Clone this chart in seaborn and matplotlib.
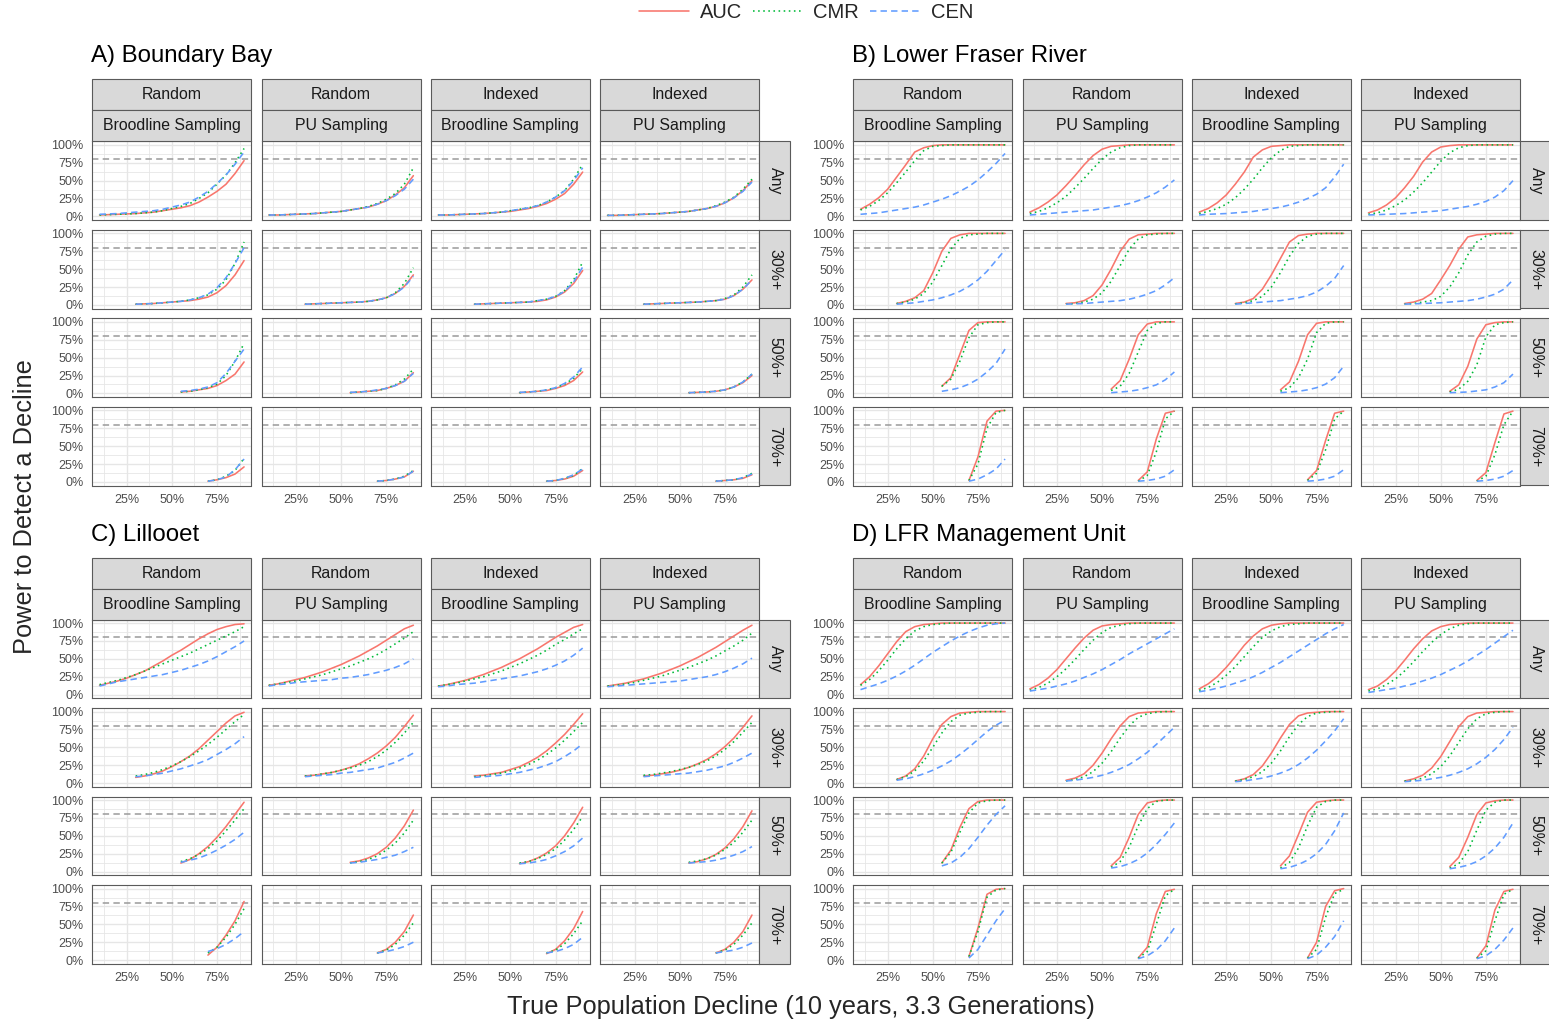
import matplotlib
matplotlib.use("Agg")
import matplotlib.pyplot as plt
import pandas as pd
import seaborn as sns
from matplotlib.lines import Line2D
from matplotlib.patches import Rectangle
from matplotlib.transforms import Affine2D

# ---------------------------------------------------------------------------
# True decline levels (%) simulated for each minimum-decline subset
DECLINE_ANY = [10, 15, 20, 25, 30, 35, 40, 45, 50, 55, 60, 65, 70, 75, 80, 85, 90]
DECLINE_30 = [30, 35, 40, 45, 50, 55, 60, 65, 70, 75, 80, 85, 90]
DECLINE_50 = [55, 60, 65, 70, 75, 80, 85, 90]
DECLINE_70 = [70, 75, 80, 85, 90]
SUBSETS = ["Any", "30%+", "50%+", "70%+"]
METHODS = ["AUC", "CMR", "CEN"]
SCHEMES = [("Random", "Broodline Sampling"), ("Random", "PU Sampling"),
           ("Indexed", "Broodline Sampling"), ("Indexed", "PU Sampling")]
SITE_TITLES = ["A) Boundary Bay", "B) Lower Fraser River",
               "C) Lillooet", "D) LFR Management Unit"]
POWER_TARGET = 80

# Power (%) per site / scheme / method; one list per subset (Any, 30%+, 50%+, 70%+)
# --- Boundary Bay
bb_rb_auc = [[2, 2.5, 3, 3.5, 4, 5, 6, 8, 10, 12, 15, 20, 27, 35, 45, 60, 78],
             [1, 1.5, 2, 3, 4, 5, 6, 8, 11, 17, 27, 42, 62],
             [2, 3, 5, 7, 11, 18, 27, 44],
             [1, 3, 6, 11, 21]]
bb_rb_cmr = [[2, 2.5, 3, 3.5, 4, 5, 6, 8, 11, 14, 18, 25, 33, 45, 58, 75, 95],
             [1, 1.5, 2, 3, 4, 5, 7, 10, 14, 22, 35, 58, 88],
             [2, 3, 5, 8, 13, 25, 45, 70],
             [1, 3, 8, 16, 33]]
bb_rb_cen = [[3, 3.5, 4, 5, 6, 7, 8, 10, 13, 16, 20, 27, 35, 46, 58, 73, 90],
             [1, 1.5, 2, 3, 4, 5, 7, 10, 15, 24, 38, 58, 80],
             [3, 4, 6, 9, 15, 28, 45, 62],
             [1, 3, 7, 17, 32]]
bb_rp_auc = [[2, 2, 2.5, 3, 3.5, 4, 5, 6, 7, 9, 11, 13, 17, 22, 30, 40, 57],
             [1, 1.5, 2, 2.5, 3, 3.5, 4, 5, 7, 10, 16, 26, 42],
             [1, 2, 3, 4, 7, 11, 17, 29],
             [1, 2, 4, 7, 15]]
bb_rp_cmr = [[2, 2, 2.5, 3, 3.5, 4, 5, 6, 7, 9, 11, 14, 18, 24, 32, 45, 68],
             [1, 1.5, 2, 2.5, 3, 3.5, 4, 5, 7, 10, 17, 30, 52],
             [1, 2, 3, 4, 7, 12, 20, 34],
             [1, 2, 4, 8, 16]]
bb_rp_cen = [[2, 2, 2.5, 3, 3.5, 4, 5, 6, 7, 9, 11, 13, 17, 22, 29, 38, 52],
             [1, 1.5, 2, 2.5, 3, 3.5, 4, 5, 7, 10, 16, 25, 40],
             [1.5, 2, 3, 5, 7, 11, 17, 28],
             [1, 2, 4, 7, 15]]
bb_ib_auc = [[2, 2, 2.5, 3, 3.5, 4, 5, 6, 7, 9, 11, 14, 18, 24, 32, 45, 62],
             [1, 1.5, 2, 2.5, 3, 3.5, 4, 5, 7, 11, 18, 30, 48],
             [1, 2, 3, 4, 7, 11, 18, 30],
             [1, 2, 4, 8, 16]]
bb_ib_cmr = [[2, 2, 2.5, 3, 3.5, 4, 5, 6, 8, 10, 12, 15, 20, 27, 36, 52, 73],
             [1, 1.5, 2, 2.5, 3, 3.5, 4, 6, 8, 12, 20, 35, 60],
             [1, 2, 3, 5, 8, 13, 21, 35],
             [1, 2, 5, 9, 19]]
bb_ib_cen = [[2, 2, 2.5, 3, 3.5, 4, 5, 6, 8, 10, 12, 15, 20, 27, 36, 50, 68],
             [1, 1.5, 2, 2.5, 3, 3.5, 4, 6, 8, 12, 19, 32, 53],
             [1.5, 2, 3, 5, 8, 14, 23, 37],
             [1, 2, 5, 10, 18]]
bb_ip_auc = [[1.5, 1.5, 2, 2.5, 3, 3.5, 4, 5, 6, 7, 9, 11, 14, 19, 26, 36, 50],
             [1, 1.5, 2, 2.5, 3, 3.5, 4, 5, 6, 8, 13, 22, 35],
             [1, 1.5, 2, 3, 5, 9, 15, 25],
             [1, 2, 3, 5, 10]]
bb_ip_cmr = [[1.5, 1.5, 2, 2.5, 3, 3.5, 4, 5, 6, 7, 9, 11, 15, 20, 27, 38, 52],
             [1, 1.5, 2, 2.5, 3, 3.5, 4, 5, 6, 9, 14, 25, 42],
             [1, 1.5, 2, 3, 5, 9, 16, 27],
             [1, 2, 3, 6, 12]]
bb_ip_cen = [[1.5, 1.5, 2, 2.5, 3, 3.5, 4, 5, 6, 7, 9, 11, 14, 19, 26, 35, 48],
             [1, 1.5, 2, 2.5, 3, 3.5, 4, 5, 6, 8, 13, 22, 35],
             [1, 1.5, 2, 3, 5, 9, 16, 27],
             [1, 2, 3, 6, 11]]

# --- Lower Fraser River
lfr_rb_auc = [[10, 17, 26, 38, 55, 72, 90, 96, 99, 100, 100, 100, 100, 100, 100, 100, 100],
              [2, 5, 10, 20, 45, 75, 93, 98, 100, 100, 100, 100, 100],
              [10, 22, 55, 88, 99, 100, 100, 100],
              [2, 35, 85, 99, 100]]
lfr_rb_cmr = [[9, 14, 22, 33, 47, 62, 78, 92, 98, 99, 100, 100, 100, 100, 100, 100, 100],
              [2, 4, 8, 16, 32, 55, 78, 93, 98, 99, 100, 100, 100],
              [10, 20, 45, 78, 96, 99, 100, 100],
              [2, 25, 75, 97, 100]]
lfr_rb_cen = [[3, 4, 5, 7, 9, 11, 13, 16, 20, 24, 29, 35, 42, 51, 62, 74, 88],
              [1, 2, 3, 5, 7, 10, 14, 19, 26, 35, 47, 62, 77],
              [3, 5, 8, 13, 20, 30, 42, 62],
              [1, 4, 10, 18, 32]]
lfr_rp_auc = [[6, 12, 20, 30, 43, 57, 72, 85, 94, 98, 99, 100, 100, 100, 100, 100, 100],
              [2, 3, 6, 13, 28, 50, 75, 92, 98, 99, 100, 100, 100],
              [6, 18, 48, 82, 97, 100, 100, 100],
              [2, 14, 60, 96, 99]]
lfr_rp_cmr = [[4, 7, 12, 19, 28, 40, 53, 67, 80, 90, 96, 99, 100, 100, 100, 100, 100],
              [1, 2, 4, 8, 17, 33, 55, 78, 92, 98, 99, 100, 100],
              [4, 10, 28, 58, 88, 98, 100, 100],
              [1, 9, 42, 88, 99]]
lfr_rp_cen = [[2, 3, 4, 5, 6, 7, 8, 9, 11, 13, 15, 18, 22, 27, 33, 41, 51],
              [1, 1.5, 2, 3, 4, 5, 6, 8, 11, 15, 20, 28, 38],
              [1, 2, 3, 5, 8, 12, 19, 30],
              [1, 2, 4, 8, 17]]
lfr_ib_auc = [[6, 11, 19, 30, 45, 62, 83, 93, 98, 99, 100, 100, 100, 100, 100, 100, 100],
              [2, 4, 9, 22, 42, 65, 88, 97, 99, 100, 100, 100, 100],
              [5, 16, 45, 82, 98, 100, 100, 100],
              [3, 16, 58, 96, 99]]
lfr_ib_cmr = [[4, 7, 11, 17, 26, 38, 52, 68, 82, 92, 98, 99, 100, 100, 100, 100, 100],
              [1.5, 3, 6, 12, 25, 45, 68, 86, 96, 99, 100, 100, 100],
              [3, 8, 22, 48, 85, 98, 100, 100],
              [2, 12, 45, 88, 99]]
lfr_ib_cen = [[2, 3, 3.5, 4, 5, 6, 7, 9, 11, 13, 16, 20, 25, 31, 40, 55, 73],
              [1, 2, 3, 4, 5, 6, 8, 10, 13, 18, 26, 37, 55],
              [1, 2, 3, 5, 8, 13, 22, 38],
              [1, 2, 4, 8, 17]]
lfr_ip_auc = [[5, 9, 16, 26, 40, 56, 76, 90, 97, 99, 100, 100, 100, 100, 100, 100, 100],
              [2, 4, 8, 16, 35, 55, 78, 95, 98, 99, 100, 100, 100],
              [3, 12, 38, 76, 96, 99, 100, 100],
              [2, 13, 55, 95, 99]]
lfr_ip_cmr = [[3, 5, 9, 15, 23, 34, 47, 62, 77, 89, 96, 99, 100, 100, 100, 100, 100],
              [1, 2, 4, 6, 12, 25, 45, 70, 88, 96, 99, 100, 100],
              [2, 6, 17, 40, 79, 96, 99, 100],
              [1, 8, 38, 80, 99]]
lfr_ip_cen = [[2, 2.5, 3, 3.5, 4, 5, 6, 7, 8, 10, 12, 14, 17, 21, 27, 36, 50],
              [1, 1.5, 2, 2.5, 3, 4, 5, 6, 8, 11, 15, 22, 35],
              [1, 1.5, 2, 3.5, 5, 9, 15, 27],
              [1, 2, 4, 8, 16]]

# --- Lillooet
lil_rb_auc = [[13, 16, 19, 23, 28, 33, 40, 47, 55, 62, 70, 78, 85, 91, 95, 98, 99],
              [8, 10, 13, 17, 23, 30, 38, 48, 60, 72, 84, 94, 99],
              [12, 17, 25, 35, 48, 63, 80, 97],
              [7, 18, 35, 55, 82]]
lil_rb_cmr = [[14, 17, 20, 24, 28, 33, 38, 43, 48, 53, 58, 64, 70, 76, 82, 88, 95],
              [10, 12, 15, 19, 24, 30, 37, 45, 54, 64, 75, 86, 96],
              [14, 18, 24, 32, 43, 57, 72, 88],
              [10, 18, 32, 50, 72]]
lil_rb_cen = [[12, 15, 18, 20, 22, 24, 26, 28, 31, 34, 38, 42, 47, 53, 60, 67, 75],
              [9, 10, 12, 14, 17, 20, 24, 28, 33, 40, 47, 55, 65],
              [13, 16, 19, 24, 30, 37, 45, 55],
              [12, 16, 22, 30, 40]]
lil_rp_auc = [[13, 15, 18, 21, 24, 28, 32, 37, 42, 48, 54, 61, 68, 76, 84, 92, 97],
              [10, 11, 13, 15, 18, 22, 27, 34, 42, 52, 64, 79, 95],
              [13, 15, 19, 25, 34, 47, 64, 86],
              [10, 15, 25, 40, 63]]
lil_rp_cmr = [[13, 15, 17, 19, 22, 25, 28, 32, 36, 40, 45, 50, 56, 63, 71, 79, 88],
              [10, 11, 13, 15, 18, 21, 25, 30, 37, 46, 57, 70, 85],
              [12, 14, 17, 22, 30, 40, 54, 72],
              [10, 14, 22, 35, 52]]
lil_rp_cen = [[12, 14, 15, 17, 18, 19, 20, 21, 23, 24, 26, 28, 31, 34, 38, 43, 50],
              [9, 10, 11, 12, 14, 15, 17, 19, 21, 25, 29, 35, 42],
              [12, 13, 15, 17, 20, 23, 28, 34],
              [10, 12, 15, 19, 25]]
lil_ib_auc = [[12, 14, 17, 20, 24, 28, 33, 38, 44, 50, 57, 64, 72, 80, 87, 94, 98],
              [10, 11, 13, 15, 19, 23, 29, 36, 45, 56, 68, 82, 97],
              [11, 14, 19, 26, 36, 50, 68, 90],
              [9, 15, 27, 44, 68]]
lil_ib_cmr = [[12, 14, 16, 19, 22, 25, 29, 33, 38, 43, 49, 55, 62, 70, 77, 85, 92],
              [9, 10, 12, 14, 17, 21, 26, 32, 40, 49, 60, 72, 85],
              [12, 14, 18, 24, 32, 44, 59, 77],
              [10, 14, 23, 37, 55]]
lil_ib_cen = [[11, 12, 14, 15, 16, 18, 20, 22, 24, 26, 29, 32, 36, 41, 47, 55, 65],
              [8, 9, 10, 11, 13, 15, 18, 21, 25, 30, 37, 45, 55],
              [11, 12, 14, 17, 22, 28, 36, 47],
              [10, 12, 16, 22, 32]]
lil_ip_auc = [[12, 14, 16, 19, 22, 26, 30, 35, 40, 46, 52, 59, 66, 74, 82, 90, 97],
              [10, 11, 13, 15, 18, 22, 27, 33, 41, 51, 63, 78, 94],
              [12, 14, 18, 24, 33, 46, 63, 85],
              [10, 15, 25, 40, 63]]
lil_ip_cmr = [[12, 13, 15, 17, 20, 23, 26, 30, 34, 38, 43, 48, 54, 61, 68, 76, 86],
              [11, 12, 14, 16, 19, 22, 26, 31, 38, 47, 58, 71, 85],
              [13, 15, 18, 23, 31, 41, 55, 72],
              [10, 14, 22, 35, 52]]
lil_ip_cen = [[11, 12, 13, 14, 15, 16, 17, 18, 19, 21, 23, 25, 28, 32, 37, 43, 51],
              [9, 10, 11, 12, 13, 14, 16, 18, 21, 24, 29, 35, 42],
              [12, 13, 14, 16, 19, 23, 28, 35],
              [10, 12, 14, 18, 24]]

# --- LFR Management Unit
mu_rb_auc = [[14, 25, 40, 57, 74, 88, 95, 98, 99, 100, 100, 100, 100, 100, 100, 100, 100],
             [5, 10, 20, 38, 62, 82, 93, 98, 99, 100, 100, 100, 100],
             [12, 30, 62, 88, 98, 100, 100, 100],
             [5, 45, 92, 99, 100]]
mu_rb_cmr = [[13, 21, 33, 48, 64, 78, 89, 95, 98, 99, 100, 100, 100, 100, 100, 100, 100],
             [5, 9, 17, 31, 50, 70, 86, 95, 98, 99, 100, 100, 100],
             [12, 27, 55, 82, 96, 99, 100, 100],
             [5, 40, 88, 98, 100]]
mu_rb_cen = [[7, 11, 15, 20, 26, 33, 41, 50, 59, 67, 75, 82, 88, 93, 97, 99, 100],
             [4, 6, 9, 13, 18, 24, 31, 40, 50, 61, 72, 81, 88],
             [8, 12, 20, 32, 48, 65, 80, 92],
             [3, 15, 35, 55, 72]]
mu_rp_auc = [[8, 14, 23, 35, 50, 65, 79, 90, 96, 98, 99, 100, 100, 100, 100, 100, 100],
             [4, 7, 13, 25, 42, 62, 80, 93, 98, 99, 100, 100, 100],
             [8, 20, 48, 80, 96, 99, 100, 100],
             [3, 18, 65, 96, 99]]
mu_rp_cmr = [[6, 10, 16, 25, 36, 49, 63, 76, 87, 94, 97, 99, 100, 100, 100, 100, 100],
             [3, 5, 9, 16, 28, 44, 63, 80, 92, 97, 99, 100, 100],
             [6, 14, 34, 64, 88, 98, 100, 100],
             [3, 12, 50, 90, 99]]
mu_rp_cen = [[5, 7, 9, 12, 15, 19, 24, 29, 35, 42, 49, 57, 64, 71, 78, 85, 92],
             [3, 4, 6, 8, 11, 15, 20, 26, 34, 43, 54, 66, 78],
             [5, 7, 11, 17, 26, 38, 52, 68],
             [2, 6, 14, 27, 45]]
mu_ib_auc = [[8, 15, 25, 38, 53, 69, 82, 92, 97, 99, 100, 100, 100, 100, 100, 100, 100],
             [3, 6, 12, 24, 42, 63, 82, 94, 98, 99, 100, 100, 100],
             [8, 22, 52, 83, 97, 99, 100, 100],
             [3, 25, 75, 97, 100]]
mu_ib_cmr = [[6, 10, 17, 27, 39, 53, 67, 80, 89, 95, 98, 99, 100, 100, 100, 100, 100],
             [3, 5, 9, 16, 28, 45, 65, 82, 93, 98, 99, 100, 100],
             [5, 13, 33, 64, 90, 98, 100, 100],
             [3, 15, 60, 93, 99]]
mu_ib_cen = [[4, 6, 9, 12, 16, 20, 25, 31, 38, 45, 53, 61, 69, 77, 85, 92, 98],
             [2, 3, 5, 7, 10, 14, 19, 26, 35, 46, 59, 73, 90],
             [4, 6, 10, 16, 25, 38, 57, 82],
             [2, 7, 18, 33, 55]]
mu_ip_auc = [[7, 12, 21, 33, 48, 64, 78, 89, 95, 98, 99, 100, 100, 100, 100, 100, 100],
             [3, 6, 11, 21, 37, 58, 79, 93, 98, 99, 100, 100, 100],
             [7, 20, 48, 80, 96, 99, 100, 100],
             [3, 20, 70, 96, 99]]
mu_ip_cmr = [[5, 8, 14, 22, 33, 46, 60, 73, 84, 92, 97, 99, 100, 100, 100, 100, 100],
             [3, 4, 7, 13, 23, 38, 57, 76, 90, 97, 99, 100, 100],
             [5, 11, 28, 58, 86, 97, 100, 100],
             [3, 13, 55, 92, 99]]
mu_ip_cen = [[3, 5, 7, 9, 12, 15, 19, 23, 28, 34, 40, 47, 55, 63, 72, 81, 90],
             [2, 3, 4, 6, 8, 11, 15, 20, 27, 36, 47, 61, 78],
             [4, 6, 9, 14, 22, 33, 48, 68],
             [2, 6, 15, 28, 45]]

SITE_SERIES = [
    [(bb_rb_auc, bb_rb_cmr, bb_rb_cen), (bb_rp_auc, bb_rp_cmr, bb_rp_cen),
     (bb_ib_auc, bb_ib_cmr, bb_ib_cen), (bb_ip_auc, bb_ip_cmr, bb_ip_cen)],
    [(lfr_rb_auc, lfr_rb_cmr, lfr_rb_cen), (lfr_rp_auc, lfr_rp_cmr, lfr_rp_cen),
     (lfr_ib_auc, lfr_ib_cmr, lfr_ib_cen), (lfr_ip_auc, lfr_ip_cmr, lfr_ip_cen)],
    [(lil_rb_auc, lil_rb_cmr, lil_rb_cen), (lil_rp_auc, lil_rp_cmr, lil_rp_cen),
     (lil_ib_auc, lil_ib_cmr, lil_ib_cen), (lil_ip_auc, lil_ip_cmr, lil_ip_cen)],
    [(mu_rb_auc, mu_rb_cmr, mu_rb_cen), (mu_rp_auc, mu_rp_cmr, mu_rp_cen),
     (mu_ib_auc, mu_ib_cmr, mu_ib_cen), (mu_ip_auc, mu_ip_cmr, mu_ip_cen)],
]
DECLINES = [DECLINE_ANY, DECLINE_30, DECLINE_50, DECLINE_70]

# ---------------------------------------------------------------------------
# Long-format table
rows = []
for s, site in enumerate(SITE_SERIES):
    for c, scheme in enumerate(site):
        for method, series in zip(METHODS, scheme):
            for k, (xs, ys) in enumerate(zip(DECLINES, series)):
                assert len(xs) == len(ys), (SITE_TITLES[s], c, method, k)
                for x, y in zip(xs, ys):
                    rows.append((s, c, SUBSETS[k], method, x, y))
df = pd.DataFrame(rows, columns=["site", "scheme", "subset", "method", "decline", "power"])

# ---------------------------------------------------------------------------
sns.set_theme(style="white")
plt.rcParams["font.family"] = ["Liberation Sans", "DejaVu Sans"]

METHOD_COLORS = {"AUC": "#F8766D", "CMR": "#00BA38", "CEN": "#619CFF"}
METHOD_DASHES = {"AUC": "", "CMR": (1, 2.2), "CEN": (4, 2.6)}
STRIP_FILL = "#D9D9D9"
BORDER = "#5A5A5A"
GRID = "#E6E6E6"

W, H = 1549, 1024
fig = plt.figure(figsize=(W / 100, H / 100), dpi=100)
px = Affine2D().scale(1 / W, -1 / H).translate(0, 1) + fig.transFigure


def fig_box(x0, y0, w, h):
    return [x0 / W, 1 - (y0 + h) / H, w / W, h / H]


def strip(x0, y0, w, h, text, rotation=0):
    fig.add_artist(Rectangle((x0, y0), w, h, transform=px, facecolor=STRIP_FILL,
                             edgecolor=BORDER, lw=0.8))
    fig.text(x0 + w / 2, y0 + h / 2, text, transform=px, ha="center", va="center",
             rotation=rotation, fontsize=11.4, color="#1A1A1A")


SITE_ORIGINS = [(92.3, 79.3), (853.3, 79.3), (92.3, 557.5), (853.3, 557.5)]
COL_STEP, PANEL_W = 169.3, 159.0
STRIP_H = 31.0
ROW_STEP, PANEL_H = 88.5, 78.7

for s, (ox, oy) in enumerate(SITE_ORIGINS):
    fig.text(ox - 1, oy - 23, SITE_TITLES[s], transform=px, ha="left", va="center",
             fontsize=17.3, color="black")
    panel_top = oy + 2 * STRIP_H
    for c, (design, sampling) in enumerate(SCHEMES):
        x0 = ox + c * COL_STEP
        strip(x0, oy, PANEL_W, STRIP_H, design)
        strip(x0, oy + STRIP_H, PANEL_W, STRIP_H, sampling)
        for r, subset in enumerate(SUBSETS):
            y0 = panel_top + r * ROW_STEP
            ax = fig.add_axes(fig_box(x0, y0, PANEL_W, PANEL_H))
            ax.set_facecolor("white")
            ax.axhline(POWER_TARGET, color="#9A9A9A", lw=1.1, ls=(0, (4.2, 2.8)), zorder=1)
            sub = df[(df.site == s) & (df.scheme == c) & (df.subset == subset)]
            sns.lineplot(data=sub, x="decline", y="power", hue="method", style="method",
                         hue_order=METHODS, style_order=METHODS, palette=METHOD_COLORS,
                         dashes=METHOD_DASHES, linewidth=1.15, errorbar=None,
                         legend=False, ax=ax, zorder=3)
            ax.set_xlim(6, 94)
            ax.set_ylim(-5, 105)
            ax.set_xticks([25, 50, 75])
            ax.set_xticks([12.5, 37.5, 62.5, 87.5], minor=True)
            ax.set_yticks([0, 25, 50, 75, 100])
            ax.set_yticks([12.5, 37.5, 62.5, 87.5], minor=True)
            ax.set_xticklabels(["25%", "50%", "75%"])
            ax.set_yticklabels(["0%", "25%", "50%", "75%", "100%"])
            ax.grid(True, which="major", color=GRID, lw=1.0)
            ax.grid(True, which="minor", color=GRID, lw=0.6)
            ax.set_axisbelow(True)
            ax.set_xlabel("")
            ax.set_ylabel("")
            for sp in ax.spines.values():
                sp.set_color(BORDER)
                sp.set_linewidth(0.8)
            ax.tick_params(which="minor", length=0)
            ax.tick_params(axis="both", which="major", length=4, width=0.8,
                           color="#333333", labelsize=9, labelcolor="#4D4D4D", pad=2.2)
            if c != 0:
                ax.tick_params(axis="y", length=0, labelleft=False)
            if r != len(SUBSETS) - 1:
                ax.tick_params(axis="x", length=0, labelbottom=False)
            if c == len(SCHEMES) - 1:
                strip(x0 + PANEL_W + 0.3, y0, STRIP_H, PANEL_H, subset, rotation=-90)

# Shared axis titles
fig.text(25, 507, "Power to Detect a Decline", transform=px, rotation=90,
         ha="center", va="center", fontsize=18.3)
fig.text(801, 1007, "True Population Decline (10 years, 3.3 Generations)", transform=px,
         ha="center", va="center", fontsize=18.3)

# Legend
handles = [Line2D([], [], color=METHOD_COLORS[m], lw=1.15,
                  ls="-" if m == "AUC" else (0, METHOD_DASHES[m])) for m in METHODS]
fig.legend(handles, METHODS, loc="center", bbox_to_anchor=(806 / W, 1 - 13 / H),
           ncol=3, frameon=False, fontsize=14.5, handlelength=2.5, handletextpad=0.5,
           columnspacing=0.55)

fig.savefig("out.png", dpi=100, facecolor="white")
